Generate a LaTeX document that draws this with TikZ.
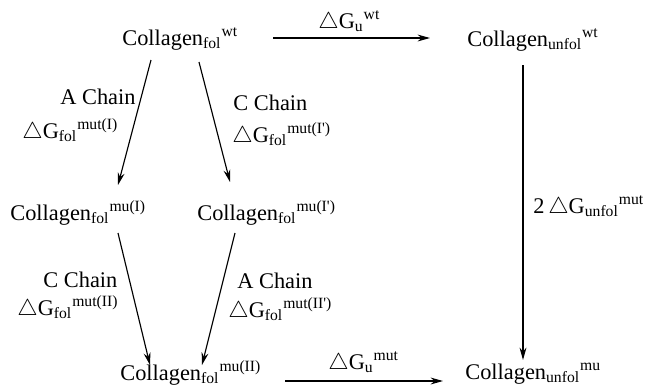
\documentclass[tikz,border=0pt]{standalone}
\usepackage{fontspec}
\setmainfont{Liberation Serif}
\usetikzlibrary{arrows.meta,calc}
\newcommand{\coll}[2]{Collagen\textsubscript{#1}\textsuperscript{#2}}
\newcommand{\dG}[2]{$\triangle$G\textsubscript{#1}\textsuperscript{#2}}

\begin{document}
\begin{tikzpicture}[x=0.523pt,y=-0.523pt,
  state/.style={anchor=base west,inner sep=0pt,font=\fontsize{11.7}{14}\selectfont},
  lbl/.style={anchor=base west,inner sep=0pt,font=\fontsize{11.7}{14}\selectfont},
  arr/.style={-{Stealth[length=6.5pt,width=3.6pt]},line width=0.6pt},
]
\useasboundingbox (0,0) rectangle (653,390);
% states
\node[state] (wtfol) at (122,45) {\coll{fol}{wt}};
\node[state] (wtunf) at (467,46) {\coll{unfol}{wt}};
\node[state] (muA) at (10,220) {\coll{fol}{mu(I)}};
\node[state] (muC) at (197,220) {\coll{fol}{mu(I\textquotesingle)}};
\node[state] (muII) at (120,380) {\coll{fol}{mu(II)}};
\node[state] (muunf) at (465,379) {\coll{unfol}{mu}};
% arrows
\draw[arr] ($(wtfol.base west)+(151,-7)$) -- ($(wtunf.base west)+(-37,-8)$);
\draw[arr] ($(wtunf.base west)+(56,19)$) -- ($(muunf.base west)+(58,-19)$);
\draw[arr] ($(muII.base west)+(165,1)$) -- ($(muunf.base west)+(-22,2)$);
\draw[arr] ($(wtfol.base west)+(29,15)$) -- ($(muA.base west)+(108,-35)$);
\draw[arr] ($(wtfol.base west)+(77,17)$) -- ($(muC.base west)+(33,-38)$);
\draw[arr] ($(muA.base west)+(108,13)$) -- ($(muII.base west)+(30,-15)$);
\draw[arr] ($(muC.base west)+(38,13)$) -- ($(muII.base west)+(82,-15)$);
% labels
\node[lbl] (gwt) at (318,28) {\dG{u}{wt}};
\node[lbl] (gmut) at (328,369) {\dG{u}{mut}};
\node[lbl] (gunf) at (533,213) {2\,\dG{unfol}{mut}};
\node[lbl] (chA1) at (60,104) {A Chain};
\node[lbl] (gA1) at (22,138) {\dG{fol}{mut(I)}};
\node[lbl] (chC1) at (233,110) {C Chain};
\node[lbl] (gC1) at (232,142) {\dG{fol}{mut(I\textquotesingle)}};
\node[lbl] (chC2) at (43,287) {C Chain};
\node[lbl] (gC2) at (17,315) {\dG{fol}{mut(II)}};
\node[lbl] (chA2) at (237,288) {A Chain};
\node[lbl] (gA2) at (228,317) {\dG{fol}{mut(II\textquotesingle)}};
\end{tikzpicture}
\end{document}
